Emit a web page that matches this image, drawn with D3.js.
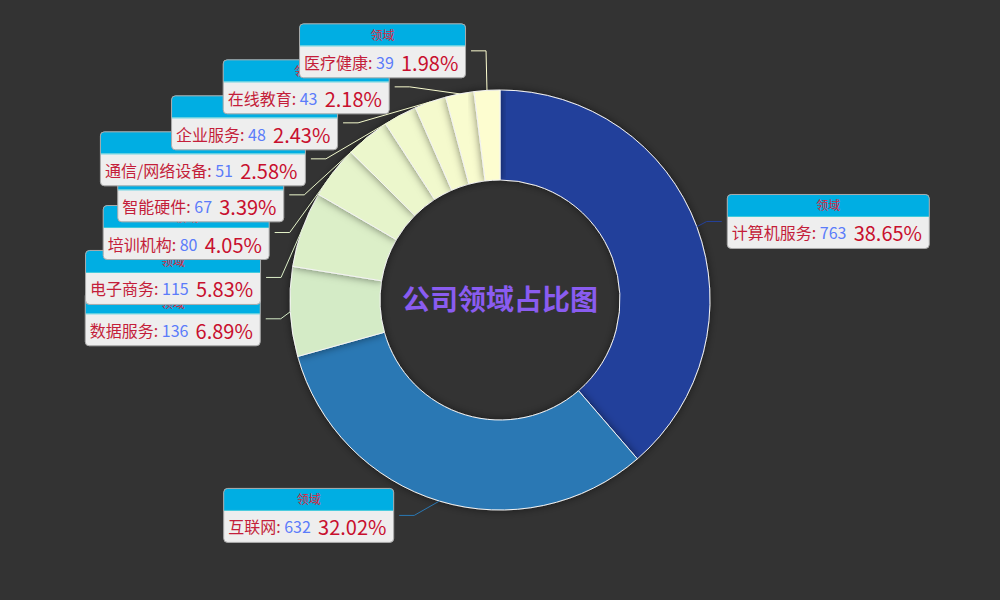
<!DOCTYPE html>
<html>
<head>
<meta charset="utf-8">
<script src="https://cdn.jsdelivr.net/npm/d3@7"></script>
<style>
  html, body { margin: 0; padding: 0; background: #333333; }
  svg { display: block; }
  text { white-space: pre; }
</style>
</head>
<body>
<svg id="chart" width="1000" height="600"></svg>
<script>
let categories = ["计算机服务", "互联网", "数据服务", "电子商务", "培训机构", "智能硬件", "通信/网络设备", "企业服务", "在线教育", "医疗健康"];
let values = [763, 632, 136, 115, 80, 67, 51, 48, 43, 39];
let sliceColors = ["#24419b", "#2a78b4", "#d4ebc6", "#dcefc8", "#e6f4cb", "#ecf7cc", "#f1f9cd", "#f5facd", "#f9fccf", "#fdfdd0"];
let seriesName = "领域";
let chartTitle = "公司领域占比图";

let width = 1000, height = 600;
let cx = width / 2, cy = height / 2;
let rInner = 120, rOuter = 210;
let len1 = 15, len2 = 15, labelGap = 5, slotHeight = 36;
let headerH = 22, bodyH = 33;
let fontFamily = "'Noto Sans CJK SC', 'Noto Sans', sans-serif";

let svg = d3.select("#chart");
svg.append("rect").attr("width", width).attr("height", height).attr("fill", "#333333");

let defs = svg.append("defs");
let shadow = defs.append("filter")
    .attr("id", "sliceShadow")
    .attr("x", "-20%").attr("y", "-20%")
    .attr("width", "140%").attr("height", "140%");
shadow.append("feDropShadow")
    .attr("dx", 0).attr("dy", 0)
    .attr("stdDeviation", 4)
    .attr("flood-color", "#000")
    .attr("flood-opacity", 0.5);

let total = d3.sum(values);
let pie = d3.pie().sort(null).value(function(d) { return d; });
let arcs = pie(values);
let arc = d3.arc().innerRadius(rInner).outerRadius(rOuter);

// slices
let sliceG = svg.append("g").attr("transform", "translate(" + cx + "," + cy + ")");
sliceG.selectAll(".slice")
    .data(arcs)
    .enter()
    .append("path")
    .attr("class", "slice")
    .attr("d", arc)
    .attr("fill", function(d, i) { return sliceColors[i]; })
    .attr("stroke", "#f4f4f4")
    .attr("stroke-width", 1)
    .attr("filter", "url(#sliceShadow)");

// initial label positions (label line: edge -> len1 out -> len2 horizontal)
let items = arcs.map(function(a, i) {
    let mid = (a.startAngle + a.endAngle) / 2;
    let dx = Math.sin(mid), dy = -Math.cos(mid);
    let dir = dx < 0 ? -1 : 1;
    let x1 = cx + rOuter * dx, y1 = cy + rOuter * dy;
    let x2 = cx + (rOuter + len1) * dx, y2 = cy + (rOuter + len1) * dy;
    let x3 = x2 + dir * len2;
    return {
        index: i, dir: dir,
        x: x3 + dir * labelGap, y: y2,
        height: slotHeight,
        pts: [[x1, y1], [x2, y2], [x3, y2]]
    };
});

// keep labels on one side from overlapping
function adjustSingleSide(list, dir) {
    list.sort(function(a, b) { return a.y - b.y; });
    function shiftDown(start, end, delta) {
        for (let j = start; j < end; j++) {
            if (list[j].y + delta > height) break;
            list[j].y += delta;
            if (j > start && j + 1 < end && list[j + 1].y > list[j].y + list[j].height) {
                shiftUp(j, delta / 2);
                return;
            }
        }
        shiftUp(end - 1, delta / 2);
    }
    function shiftUp(end, delta) {
        for (let j = end; j >= 0; j--) {
            if (list[j].y - delta < 0) break;
            list[j].y -= delta;
            if (j > 0 && list[j].y > list[j - 1].y + list[j - 1].height) break;
        }
    }
    function changeX(sub, isDown) {
        let lastDeltaX = isDown ? Number.MAX_VALUE : 0;
        sub.forEach(function(it) {
            let deltaY = Math.abs(it.y - cy);
            let rr = rOuter + len1 + len2;
            let deltaX = deltaY < rOuter + len1 ? Math.sqrt(rr * rr - deltaY * deltaY) : Math.abs(it.x - cx);
            if (isDown && deltaX >= lastDeltaX) deltaX = lastDeltaX - 10;
            if (!isDown && deltaX <= lastDeltaX) deltaX = lastDeltaX + 10;
            it.x = cx + deltaX * dir;
            lastDeltaX = deltaX;
        });
    }
    let lastY = 0;
    for (let i = 0; i < list.length; i++) {
        let delta = list[i].y - lastY;
        if (delta < 0) shiftDown(i, list.length, -delta);
        lastY = list[i].y + list[i].height;
    }
    if (height - lastY < 0) shiftUp(list.length - 1, lastY - height);
    changeX(list.filter(function(d) { return d.y < cy; }), false);
    changeX(list.filter(function(d) { return d.y >= cy; }), true);
}
adjustSingleSide(items.filter(function(d) { return d.dir < 0; }), -1);
adjustSingleSide(items.filter(function(d) { return d.dir > 0; }), 1);

items.forEach(function(it) {
    let dist = it.pts[1][0] - it.pts[2][0];
    it.pts[2][0] = it.x - it.dir * labelGap;
    it.pts[1][0] = it.pts[2][0] + dist;
    it.pts[1][1] = it.pts[2][1] = it.y;
});
items.sort(function(a, b) { return a.index - b.index; });

// label lines
svg.selectAll(".labelLine")
    .data(items)
    .enter()
    .append("polyline")
    .attr("class", "labelLine")
    .attr("points", function(d) { return d.pts.map(function(p) { return p.join(","); }).join(" "); })
    .attr("fill", "none")
    .attr("stroke", function(d) { return sliceColors[d.index]; })
    .attr("stroke-width", 1);

// label boxes, later items drawn on top
let fmtPct = d3.format(".2f");
items.forEach(function(it) {
    let i = it.index;
    let g = svg.append("g").attr("class", "label");
    let top = it.y - (headerH + bodyH) / 2;
    let bodyMid = top + headerH + bodyH / 2;

    let txt = g.append("text")
        .attr("y", bodyMid)
        .attr("dominant-baseline", "central")
        .style("font-family", fontFamily);
    txt.append("tspan").text(categories[i] + ": ")
        .style("font-size", "16px").style("fill", "#c41e3a");
    txt.append("tspan").text(values[i] + "  ")
        .style("font-size", "16px").style("fill", "#5b7cfa");
    txt.append("tspan").text(fmtPct(values[i] / total * 100) + "%")
        .style("font-size", "20px").style("fill", "#c8102e");

    let tw = txt.node().getComputedTextLength();
    let boxW = Math.round(tw + 5 + 8);
    let left = it.dir < 0 ? it.x - boxW : it.x;
    txt.attr("x", left + 5);

    g.insert("rect", "text")
        .attr("x", left + 0.5).attr("y", top + 0.5)
        .attr("width", boxW - 1).attr("height", headerH + bodyH - 1)
        .attr("rx", 4).attr("ry", 4)
        .attr("fill", "#eeeeee");
    let r = 4, x0 = left + 0.5, x1 = left + boxW - 0.5, y0 = top + 0.5, yh = top + headerH;
    g.insert("path", "text")
        .attr("d", "M" + x0 + "," + yh + "V" + (y0 + r) + "Q" + x0 + "," + y0 + " " + (x0 + r) + "," + y0 +
            "H" + (x1 - r) + "Q" + x1 + "," + y0 + " " + x1 + "," + (y0 + r) + "V" + yh + "Z")
        .attr("fill", "#00aee3");
    g.insert("line", "text")
        .attr("x1", x0).attr("x2", x1)
        .attr("y1", yh + 0.5).attr("y2", yh + 0.5)
        .attr("stroke", "#3cc9dc").attr("stroke-width", 1);
    g.insert("rect", "text")
        .attr("x", left + 0.5).attr("y", top + 0.5)
        .attr("width", boxW - 1).attr("height", headerH + bodyH - 1)
        .attr("rx", 4).attr("ry", 4)
        .attr("fill", "none")
        .attr("stroke", "#aaaaaa").attr("stroke-width", 1);
    g.append("text")
        .attr("x", left + boxW / 2)
        .attr("y", top + headerH / 2)
        .attr("text-anchor", "middle")
        .attr("dominant-baseline", "central")
        .text(seriesName)
        .style("font-family", fontFamily)
        .style("font-size", "12px")
        .style("fill", "#d7263d");
});

// center title
svg.append("text")
    .attr("x", cx)
    .attr("y", cy - 2)
    .attr("text-anchor", "middle")
    .attr("dominant-baseline", "central")
    .text(chartTitle)
    .style("font-family", fontFamily)
    .style("font-weight", "bold")
    .style("font-size", "28px")
    .style("fill", "#8a5cf0");
</script>
</body>
</html>
